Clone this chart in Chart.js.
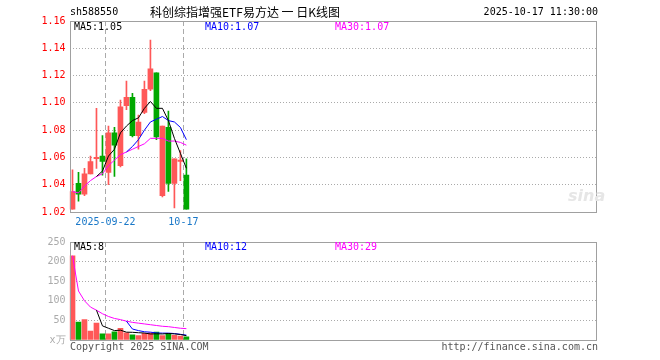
<!DOCTYPE html>
<html>
<head>
<meta charset="utf-8">
<script src="https://cdn.jsdelivr.net/npm/chart.js@4.4.1/dist/chart.umd.min.js"></script>
<style>
body { margin: 0; background: #fff; }
#wrap { position: relative; width: 660px; height: 360px; overflow: hidden; font-family: 'DejaVu Sans Mono', monospace; font-size: 10px; }
canvas { position: absolute; left: 0; }
.t { position: absolute; white-space: nowrap; line-height: 12px; }
</style>
</head>
<body>
<div id="wrap">
  <canvas id="kline" width="660" height="232" style="top:0"></canvas>
  <canvas id="vol" width="660" height="128" style="top:232px"></canvas>

  <div class="t" style="left:70px;top:6px;">sh588550</div>
  <div class="t" style="left:150px;top:4px;font-family:'Noto Sans CJK SC';font-size:12px;line-height:16px;">科创综指增强ETF易方达 一 日K线图</div>
  <div class="t" style="right:62px;top:6px;">2025-10-17 11:30:00</div>

  <div class="t" style="left:74px;top:21px;color:#000;">MA5:1.05</div>
  <div class="t" style="left:205px;top:21px;color:#00f;">MA10:1.07</div>
  <div class="t" style="left:335px;top:21px;color:#f0f;">MA30:1.07</div>

  <div class="t" style="left:74px;top:241px;color:#000;">MA5:8</div>
  <div class="t" style="left:205px;top:241px;color:#00f;">MA10:12</div>
  <div class="t" style="left:335px;top:241px;color:#f0f;">MA30:29</div>

  <div class="t" style="left:568px;top:190px;font-family:'DejaVu Sans';font-size:16px;font-style:italic;font-weight:bold;color:#e6e6e6;">sina</div>

  <div class="t" style="left:70px;top:341px;color:#555;">Copyright 2025 SINA.COM</div>
  <div class="t" style="right:62px;top:341px;color:#555;">http://finance.sina.com.cn</div>
</div>

<script>
// daily K line, 20 trading days
const dates = ['2025-09-12', '2025-09-15', '2025-09-16', '2025-09-17', '2025-09-18',
               '2025-09-19', '2025-09-22', '2025-09-23', '2025-09-24', '2025-09-25',
               '2025-09-26', '2025-09-29', '2025-09-30', '2025-10-09', '2025-10-10',
               '2025-10-13', '2025-10-14', '2025-10-15', '2025-10-16', '2025-10-17'];
const openP  = [1.022, 1.041, 1.033, 1.048, 1.059, 1.061, 1.049, 1.078, 1.054, 1.098,
                1.104, 1.076, 1.093, 1.110, 1.122, 1.032, 1.082, 1.041, 1.057, 1.047];
const closeP = [1.035, 1.033, 1.048, 1.057, 1.060, 1.057, 1.078, 1.069, 1.097, 1.104,
                1.076, 1.086, 1.110, 1.125, 1.075, 1.083, 1.041, 1.059, 1.058, 1.022];
const highP  = [1.051, 1.049, 1.052, 1.061, 1.096, 1.076, 1.083, 1.082, 1.102, 1.116,
                1.107, 1.091, 1.116, 1.146, 1.122, 1.083, 1.094, 1.059, 1.065, 1.059];
const lowP   = [1.022, 1.028, 1.032, 1.048, 1.052, 1.047, 1.040, 1.046, 1.053, 1.095,
                1.075, 1.066, 1.092, 1.109, 1.073, 1.031, 1.035, 1.023, 1.043, 1.022];
const ma5  = [null, null, null, null, 1.046, 1.050, 1.061, 1.066, 1.078, 1.083,
              1.087, 1.089, 1.096, 1.101, 1.096, 1.096, 1.087, 1.074, 1.063, 1.052];
const ma10 = [null, null, null, null, null, null, null, null, null, 1.064,
              1.068, 1.073, 1.080, 1.086, 1.088, 1.090, 1.087, 1.086, 1.082, 1.073];
const ma30 = [1.035, 1.034, 1.039, 1.043, 1.046, 1.048, 1.054, 1.058, 1.062, 1.064,
              1.066, 1.068, 1.070, 1.074, 1.074, 1.074, 1.072, 1.072, 1.071, 1.069];

// volume, 万
const volume = [215, 46, 52, 23, 43, 16, 16, 21, 30, 18, 13, 11, 17, 18, 20, 11, 17, 12, 10, 8];
const volMa5  = [null, null, null, null, 76, 36, 30, 24, 25, 20, 19.6, 18.6, 17.8, 15.4, 15.8, 15.4, 16.6, 15.6, 14, 11];
const volMa10 = [null, null, null, null, null, null, null, null, null, 48, 28, 24, 21, 20, 18, 17.5, 17.5, 16.5, 14.5, 12.5];
const volMa30 = [215, 125, 100, 84, 76, 67, 60, 55, 52, 48, 45, 43, 41, 39, 37, 35, 34, 32, 30, 29];

const priceTicks = [1.02, 1.16, 0.02];   // min, max, step
const volTicks = [0, 250, 50];
const markedDays = ['2025-09-22', '2025-10-17'];
const xTickLabels = ['2025-09-22', '10-17'];
const slotCount = 88;

const slots = dates.concat(Array(slotCount - dates.length).fill(''));
const upColor = 'rgb(255,88,88)';
const downColor = 'rgb(0,168,0)';
const candleColors = closeP.map((c, i) => c >= openP[i] ? upColor : downColor);
const gridGray = '#aaa';

const frame = {
    id: 'frame',
    afterDraw(chart) {
        const a = chart.chartArea;
        const c = chart.ctx;
        c.save();
        c.strokeStyle = '#a0a0a0';
        c.lineWidth = 1;
        c.strokeRect(Math.round(a.left) + 0.5, Math.round(a.top) + 0.5,
                     Math.round(a.right) - Math.round(a.left) - 1, Math.round(a.bottom) - Math.round(a.top));
        c.restore();
    }
};

function xAxis(showLabels) {
    return {
        type: 'category',
        labels: slots,
        offset: true,
        afterFit: s => { s.height = showLabels ? 20 : 0; },
        grid: {
            offset: true,
            drawTicks: false,
            lineWidth: 1,
            color: ctx => markedDays.includes(slots[ctx.index]) ? gridGray : 'transparent'
        },
        border: { display: false, dash: [5, 3] },
        ticks: {
            display: showLabels,
            autoSkip: false,
            maxRotation: 0,
            padding: 4,
            labelOffset: -3,
            color: '#1a78c8',
            font: { family: 'DejaVu Sans Mono', size: 10 },
            callback: (v, i) => {
                const k = markedDays.indexOf(slots[i]);
                return k >= 0 ? xTickLabels[k] : '';
            }
        }
    };
}

function lineSet(data, color) {
    return {
        type: 'line',
        data: data,
        borderColor: color,
        borderWidth: 1,
        pointRadius: 0,
        tension: 0,
        order: 0
    };
}

new Chart(document.getElementById('kline'), {
    type: 'bar',
    data: {
        labels: slots,
        datasets: [
            {
                data: dates.map((d, i) => [lowP[i], highP[i]]),
                backgroundColor: candleColors,
                barThickness: 1,
                grouped: false,
                order: 2
            },
            {
                data: dates.map((d, i) => [openP[i], closeP[i]]),
                backgroundColor: candleColors,
                barThickness: 5,
                minBarLength: 1,
                grouped: false,
                order: 1
            },
            lineSet(ma5, '#000'),
            lineSet(ma10, '#00f'),
            lineSet(ma30, '#f0f')
        ]
    },
    options: {
        responsive: false,
        animation: false,
        layout: { padding: { left: 0, top: 21, right: 63, bottom: 0 } },
        plugins: { legend: { display: false }, tooltip: { enabled: false } },
        scales: {
            x: xAxis(true),
            y: {
                min: priceTicks[0],
                max: priceTicks[1],
                afterFit: s => { s.width = 69.5; },
                grid: { color: gridGray, drawTicks: false, lineWidth: 1 },
                border: { display: false, dash: [1, 2] },
                ticks: {
                    stepSize: priceTicks[2],
                    padding: 4,
                    color: '#f00',
                    font: { family: 'DejaVu Sans Mono', size: 10 },
                    callback: v => v.toFixed(2)
                }
            }
        }
    },
    plugins: [frame]
});

new Chart(document.getElementById('vol'), {
    type: 'bar',
    data: {
        labels: slots,
        datasets: [
            {
                data: volume,
                backgroundColor: candleColors,
                barThickness: 5,
                grouped: false,
                order: 1
            },
            lineSet(volMa5, '#000'),
            lineSet(volMa10, '#00f'),
            lineSet(volMa30, '#f0f')
        ]
    },
    options: {
        responsive: false,
        animation: false,
        layout: { padding: { left: 0, top: 8, right: 63, bottom: 20 } },
        plugins: { legend: { display: false }, tooltip: { enabled: false } },
        scales: {
            x: xAxis(false),
            y: {
                min: volTicks[0],
                max: volTicks[1],
                afterFit: s => { s.width = 69.5; },
                grid: { color: gridGray, drawTicks: false, lineWidth: 1 },
                border: { display: false, dash: [1, 2] },
                ticks: {
                    stepSize: volTicks[2],
                    padding: 4,
                    color: '#aaa',
                    font: { family: 'DejaVu Sans Mono', size: 10 },
                    callback: v => v === 0 ? 'x万' : v
                }
            }
        }
    },
    plugins: [frame]
});
</script>
</body>
</html>
